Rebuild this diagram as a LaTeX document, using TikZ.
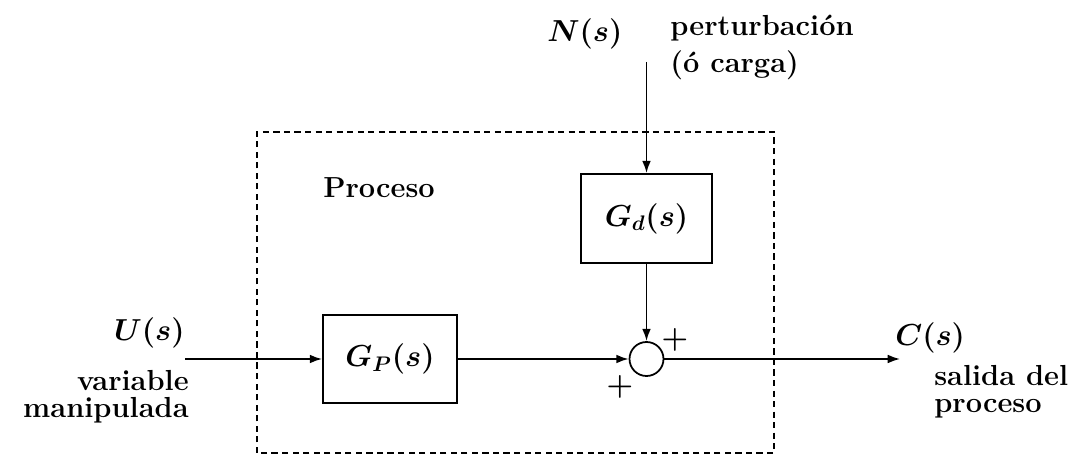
\documentclass[tikz,border=0pt]{standalone}
\usepackage{amsmath}
\usepackage{tikz}
\usetikzlibrary{arrows.meta, positioning}

\begin{document}
\begin{tikzpicture}[
    blk/.style={draw, line width=1pt, minimum width=2.68cm, minimum height=1.76cm,
                font=\fontsize{17}{20}\selectfont\boldmath},
    sumc/.style={draw, circle, line width=1pt, minimum size=0.68cm, inner sep=0pt},
    sig/.style={line width=1pt, -{Latex[length=7pt, width=5pt]}},
    lbl/.style={font=\fontsize{16.5}{15.5}\selectfont\bfseries, inner sep=0pt},
    mlbl/.style={font=\fontsize{17}{20}\selectfont\boldmath, inner sep=0pt},
    sgn/.style={font=\fontsize{19}{20}\selectfont\boldmath, inner sep=0pt}
  ]
    \useasboundingbox (0,0) rectangle (21.62,9.1);

    % Process boundary
    \draw[line width=1pt, dash pattern=on 3.5pt off 2.5pt] (5.14,0.04) rectangle (15.48,6.46);
    \node[lbl, anchor=base west] (proc) at (6.46,5.14) {Proceso};

    % Blocks
    \node[blk] (gp) at (7.8,1.92) {$G_P(s)$};
    \node[blk, minimum width=2.62cm, minimum height=1.78cm] (gd) at (12.93,4.73) {$G_d(s)$};
    \node[sumc] (sum) at (12.93,1.92) {};

    % Inputs and output
    \coordinate (uin) at (3.7,1.92);
    \coordinate (nin) at (12.93,7.86);
    \coordinate (cout) at (18.0,1.92);

    \node[mlbl, anchor=base east] (ulbl) at (3.7,2.28) {$U(s)$};
    \node[lbl, align=right, anchor=north east] (udesc) at (3.78,1.7) {variable\\manipulada};
    \node[mlbl, anchor=base west] (clbl) at (17.9,2.18) {$C(s)$};
    \node[lbl, align=left, anchor=north west] (cdesc) at (18.68,1.8) {salida del\\proceso};
    \node[mlbl, anchor=base west] (nlbl) at (10.94,8.26) {$N(s)$};
    \node[lbl, font=\fontsize{16.5}{21}\selectfont\bfseries, align=left, anchor=north west]
      (ndesc) at (13.4,8.8) {perturbaci\'on\\(\'o carga)};

    % Signs at the summing point
    \node[sgn] (p1) at (13.5,2.3) {$+$};
    \node[sgn] (p2) at (12.4,1.36) {$+$};

    % Connections
    \draw[sig] (uin) -- (gp.west);
    \draw[sig] (gp.east) -- (sum.west);
    \draw[sig] (sum.east) -- (cout);
    \draw[sig] (nin) -- (gd.north);
    \draw[sig] (gd.south) -- (sum.north);
\end{tikzpicture}
\end{document}
